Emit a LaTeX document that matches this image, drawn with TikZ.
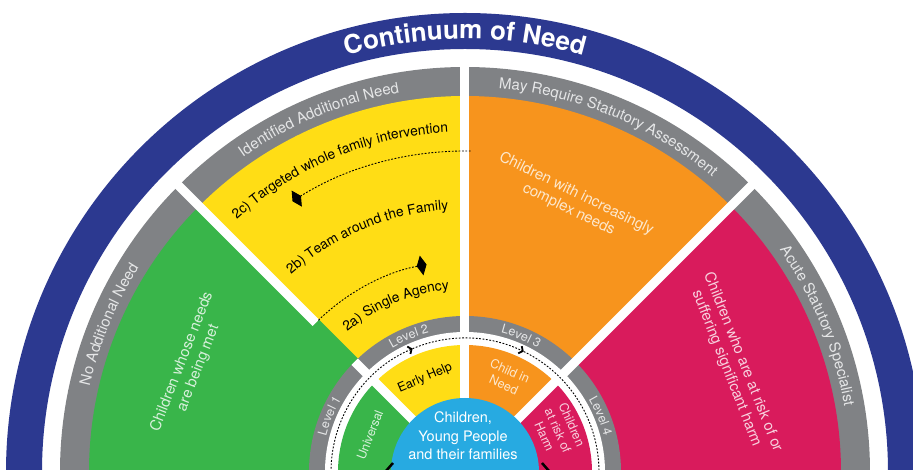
\documentclass[tikz,border=0pt]{standalone}
\usepackage{fontspec}
\setmainfont{TeX Gyre Heros}
\usetikzlibrary{arrows.meta,decorations.text}
\definecolor{cneed}{RGB}{44,57,144}
\definecolor{cgrey}{RGB}{128,130,133}
\definecolor{cgreen}{RGB}{57,181,74}
\definecolor{cyellow}{RGB}{255,221,21}
\definecolor{corange}{RGB}{247,148,29}
\definecolor{cpink}{RGB}{217,27,92}
\definecolor{ccentre}{RGB}{39,170,225}

\begin{document}
\begin{tikzpicture}[x=1pt,y=1pt,
  gap/.style={white,line width=9pt},
  dots/.style={line width=0.9pt,dash pattern=on 1.8pt off 1.6pt},
  ringlabel/.style={decorate,decoration={text along path,text align=center,
    text={|\fontsize{15}{15}\selectfont\color{white!80!cgrey}|#1}}},
  levellabel/.style={decorate,decoration={text along path,text align=center,
    text={|\fontsize{12.5}{12.5}\selectfont\color{white!80!cgrey}|#1}}},
  optlabel/.style={decorate,decoration={text along path,text align=center,
    text={|\fontsize{13.8}{13.8}\selectfont|#1}}},
  sector/.style={align=center,font=\fontsize{15}{17.5}\selectfont},
  inner/.style={align=center,font=\fontsize{12.5}{15}\selectfont}]
\useasboundingbox (-465,2) rectangle (448,472);
\clip (-465,2) rectangle (448,472);
% rings and sectors
\fill[cneed,even odd rule] (0,0) circle (459) (0,0) circle (423);
\fill[cgrey] (0,0) circle (405);
\fill[cgreen] (0,0) -- (180:376) arc (180:135:376) -- cycle;
\fill[cyellow] (0,0) -- (135:376) arc (135:90:376) -- cycle;
\fill[corange] (0,0) -- (90:376) arc (90:45:376) -- cycle;
\fill[cpink] (0,0) -- (45:376) arc (45:0:376) -- cycle;
\draw[cgreen,line width=9pt] (135:150) -- (135:211);
\fill[cgrey] (0,0) circle (156);
\fill[white] (0,0) circle (140);
\fill[cgreen] (0,0) -- (180:127) arc (180:135:127) -- cycle;
\fill[cyellow] (0,0) -- (135:127) arc (135:90:127) -- cycle;
\fill[corange] (0,0) -- (90:127) arc (90:45:127) -- cycle;
\fill[cpink] (0,0) -- (45:127) arc (45:0:127) -- cycle;
\draw[gap] (45:60) -- (45:420);
\draw[gap] (90:60) -- (90:420);
\draw[gap] (135:60) -- (135:156);
\draw[gap] (135:211) -- (135:420);
\fill[ccentre] (0,0) circle (74);
% arrows
\draw[dots,-{Diamond[length=10pt,width=19pt]}] (89:321) arc (89:122.5:321);
\draw[dots,-{Diamond[length=10pt,width=20pt]}] (134:211) arc (134:100.5:211);
\draw[dots,-{Straight Barb[length=3pt,width=8pt,line width=1.8pt]}] (180:134) arc (180:113:134);
\draw[dots,-{Straight Barb[length=3pt,width=8pt,line width=1.8pt]}] (113:134) arc (113:64:134);
\draw[dots] (64:134) arc (64:0:134);
\draw[line width=2.5pt] (-79,1) -- (-72,9);
\draw[line width=2.5pt] (77,9) -- (84,1);
% curved labels
\path[decorate,decoration={text along path,text align=center,
  text={|\fontsize{26}{26}\selectfont\bfseries\color{white}|Continuum of Need}}] (160:433) arc (160:20:433);
\path[ringlabel={No Additional Need}] (180:385) arc (180:135:385);
\path[ringlabel={Identified Additional Need}] (135:385) arc (135:90:385);
\path[ringlabel={May Require Statutory Assessment}] (90:385) arc (90:45:385);
\path[ringlabel={Acute Statutory Specialist}] (45:385) arc (45:0:385);
\path[levellabel={Level 1}] (180:143.5) arc (180:135:143.5);
\path[levellabel={Level 2}] (135:143.5) arc (135:90:143.5);
\path[levellabel={Level 3}] (90:143.5) arc (90:45:143.5);
\path[levellabel={Level 4}] (45:143.5) arc (45:0:143.5);
\path[optlabel={2c) Targeted whole family intervention}] (135:340) arc (135:90:340);
\path[optlabel={2b) Team around the Family}] (135:263) arc (135:90:263);
\path[optlabel={2a) Single Agency}] (135:183) arc (135:90:183);
% sector texts
\node[sector,text=white!80!cgreen,rotate=68.7] (met) at (158.7:295) {Children whose needs\\are being met};
\node[sector,text=white!78!corange,rotate=-26] (complex) at (68.3:291) {Children with increasingly\\complex needs};
\node[sector,text=white!80!cpink,rotate=-68.5] (harm) at (21.6:290) {Children who are at risk of or\\suffering significant harm};
\node[inner,rotate=23] (early) at (113:102) {Early Help};
\node[inner,text=white!78!corange,rotate=-24] (cin) at (66:103) {Child in\\Need};
\node[inner,text=white!80!cgreen,rotate=68.7] (universal) at (158.7:102) {Universal};
\node[inner,text=white!80!cpink,rotate=-66] (risk) at (24:102) {Children\\at risk of\\Harm};
\node[align=center,text=white,font=\fontsize{14.5}{18.5}\selectfont] (family) at (-2,36) {Children,\\Young People\\and their families};
\end{tikzpicture}
\end{document}
